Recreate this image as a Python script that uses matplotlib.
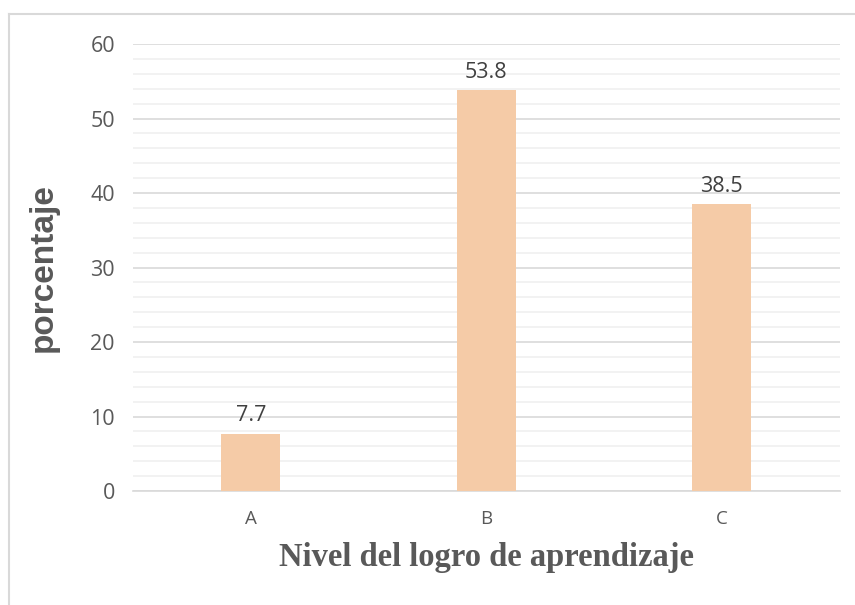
import matplotlib
matplotlib.use("Agg")
import matplotlib.pyplot as plt
from matplotlib.ticker import MultipleLocator

niveles = ["A", "B", "C"]
porcentajes = [7.7, 53.8, 38.5]
etiquetas = ["7.7", "53.8", "38.5"]

plt.rcParams['font.family'] = ['Open Sans', 'DejaVu Sans']

fig = plt.figure(figsize=(8.55, 6.05), dpi=100)
ax = fig.add_axes([0.1556, 0.1884, 0.8264, 0.7388])

x = range(len(niveles))
ax.bar(x, porcentajes, width=0.25, color='#F5CBA7', zorder=3)
for i, v in enumerate(porcentajes):
    ax.text(i, v + 1.0, etiquetas[i], ha='center', va='bottom',
            fontsize=15.5, color='#404040')

ax.set_xlim(-0.5, 2.5)
ax.set_ylim(0, 60)
ax.set_xticks(list(x))
ax.set_xticklabels(niveles)
ax.yaxis.set_major_locator(MultipleLocator(10))
ax.yaxis.set_minor_locator(MultipleLocator(2))
ax.grid(axis='y', which='major', color='#D9D9D9', linewidth=1.2, zorder=0)
ax.grid(axis='y', which='minor', color='#F0F0F0', linewidth=1.2, zorder=0)
ax.tick_params(axis='both', which='both', length=0, colors='#595959')
ax.tick_params(axis='y', labelsize=15.5, pad=13)
ax.tick_params(axis='x', labelsize=13.5, pad=14)
for s in ['top', 'right', 'left']:
    ax.spines[s].set_visible(False)
ax.spines['bottom'].set_color('#D9D9D9')
ax.spines['bottom'].set_linewidth(1.2)

ax.set_ylabel("porcentaje", fontsize=24, fontweight='bold', color='#595959',
              family=['Liberation Sans'], labelpad=23)
ax.set_xlabel("Nivel del logro de aprendizaje", fontsize=23.5, fontweight='bold',
              color='#595959', family=['Liberation Serif'], labelpad=10)

# chart border
fig.add_artist(plt.Line2D([0.0105, 0.0105], [0, 0.977], color='#D9D9D9', linewidth=1.5))
fig.add_artist(plt.Line2D([0.0105, 1.0], [0.977, 0.977], color='#D9D9D9', linewidth=1.5))

fig.savefig("out.png", dpi=100)
